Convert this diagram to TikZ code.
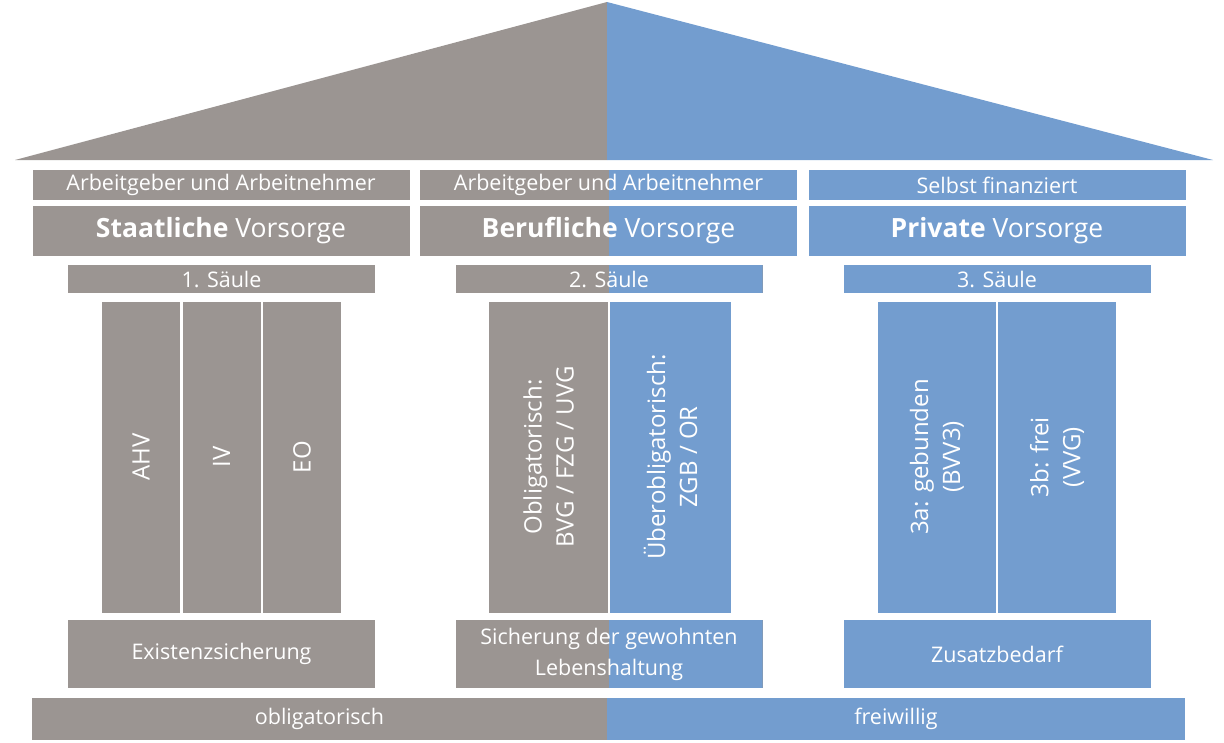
\documentclass[tikz,border=0pt]{standalone}
\usepackage{fontspec}
\setmainfont{Open Sans}
\usepackage{tikz}

\definecolor{saeulegrau}{RGB}{155,149,146}
\definecolor{saeuleblau}{RGB}{115,157,207}

\tikzset{
    box/.style={rectangle,inner sep=0pt,text=white,align=center,font=\fontsize{21.5}{31}\selectfont},
    grau/.style={box,fill=saeulegrau},
    blau/.style={box,fill=saeuleblau},
    halb/.style={box,fill=saeulegrau,path picture={
        \fill[saeuleblau] (path picture bounding box.north) rectangle (path picture bounding box.south east);}},
    gross/.style={font=\fontsize{26.5}{30}\selectfont},
    stein/.style={draw=white,line width=2pt,rotate=90,minimum width=313,font=\fontsize{24}{32}\selectfont},
}

\begin{document}
\begin{tikzpicture}[x=1pt,y=-1pt]
    \useasboundingbox (0,0) rectangle (1224,742);
    % Dach
    \coordinate (first) at (607,2);
    \fill[saeulegrau] (15,160) -- (first) -- (607,160) -- cycle;
    \fill[saeuleblau] (607,160) -- (first) -- (1213,160) -- cycle;

    \node[grau,minimum width=377,minimum height=30] (finA) at (221,185) {Arbeitgeber und Arbeitnehmer};
    \node[halb,minimum width=377,minimum height=30] (finB) at (608.5,185) {Arbeitgeber und Arbeitnehmer};
    \node[blau,minimum width=377,minimum height=30] (finC) at (997,185) {Selbst finanziert};

    \node[grau,gross,minimum width=377,minimum height=50] (vorA) at (221,231) {\textbf{Staatliche} Vorsorge};
    \node[halb,gross,minimum width=377,minimum height=50] (vorB) at (608.5,231) {\textbf{Berufliche} Vorsorge};
    \node[blau,gross,minimum width=377,minimum height=50] (vorC) at (997,231) {\textbf{Private} Vorsorge};

    \node[grau,minimum width=307,minimum height=28] (saeA) at (221.5,279) {1. Säule};
    \node[halb,minimum width=307,minimum height=28] (saeB) at (609,279) {2. Säule};
    \node[blau,minimum width=307,minimum height=28] (saeC) at (997,279) {3. Säule};

    % Säulen
    \node[grau,stein,minimum height=80] (ahv) at (141,457) {AHV};
    \node[grau,stein,minimum height=80] (iv) at (221.5,457) {IV};
    \node[grau,stein,minimum height=80] (eo) at (302,457) {EO};
    \node[grau,stein,minimum height=121] (obl) at (548.5,457) {Obligatorisch:\\BVG / FZG / UVG};
    \node[blau,stein,minimum height=123] (uebl) at (670.5,457) {Überobligatorisch:\\ZGB / OR};
    \node[blau,stein,minimum height=120] (geb) at (937,457) {3a: gebunden\\(BVV3)};
    \node[blau,stein,minimum height=120] (frei) at (1057,457) {3b: frei\\(VVG)};

    \node[grau,minimum width=307,minimum height=68] (zweckA) at (221.5,654) {Existenzsicherung};
    \node[halb,minimum width=307,minimum height=68] (zweckB) at (609,654) {Sicherung der gewohnten\\Lebenshaltung};
    \node[blau,minimum width=307,minimum height=68] (zweckC) at (997,654) {Zusatzbedarf};

    \node[grau,minimum width=575,minimum height=42] (obli) at (319.5,719) {obligatorisch};
    \node[blau,minimum width=578,minimum height=42] (freiw) at (896,719) {freiwillig};
\end{tikzpicture}
\end{document}
